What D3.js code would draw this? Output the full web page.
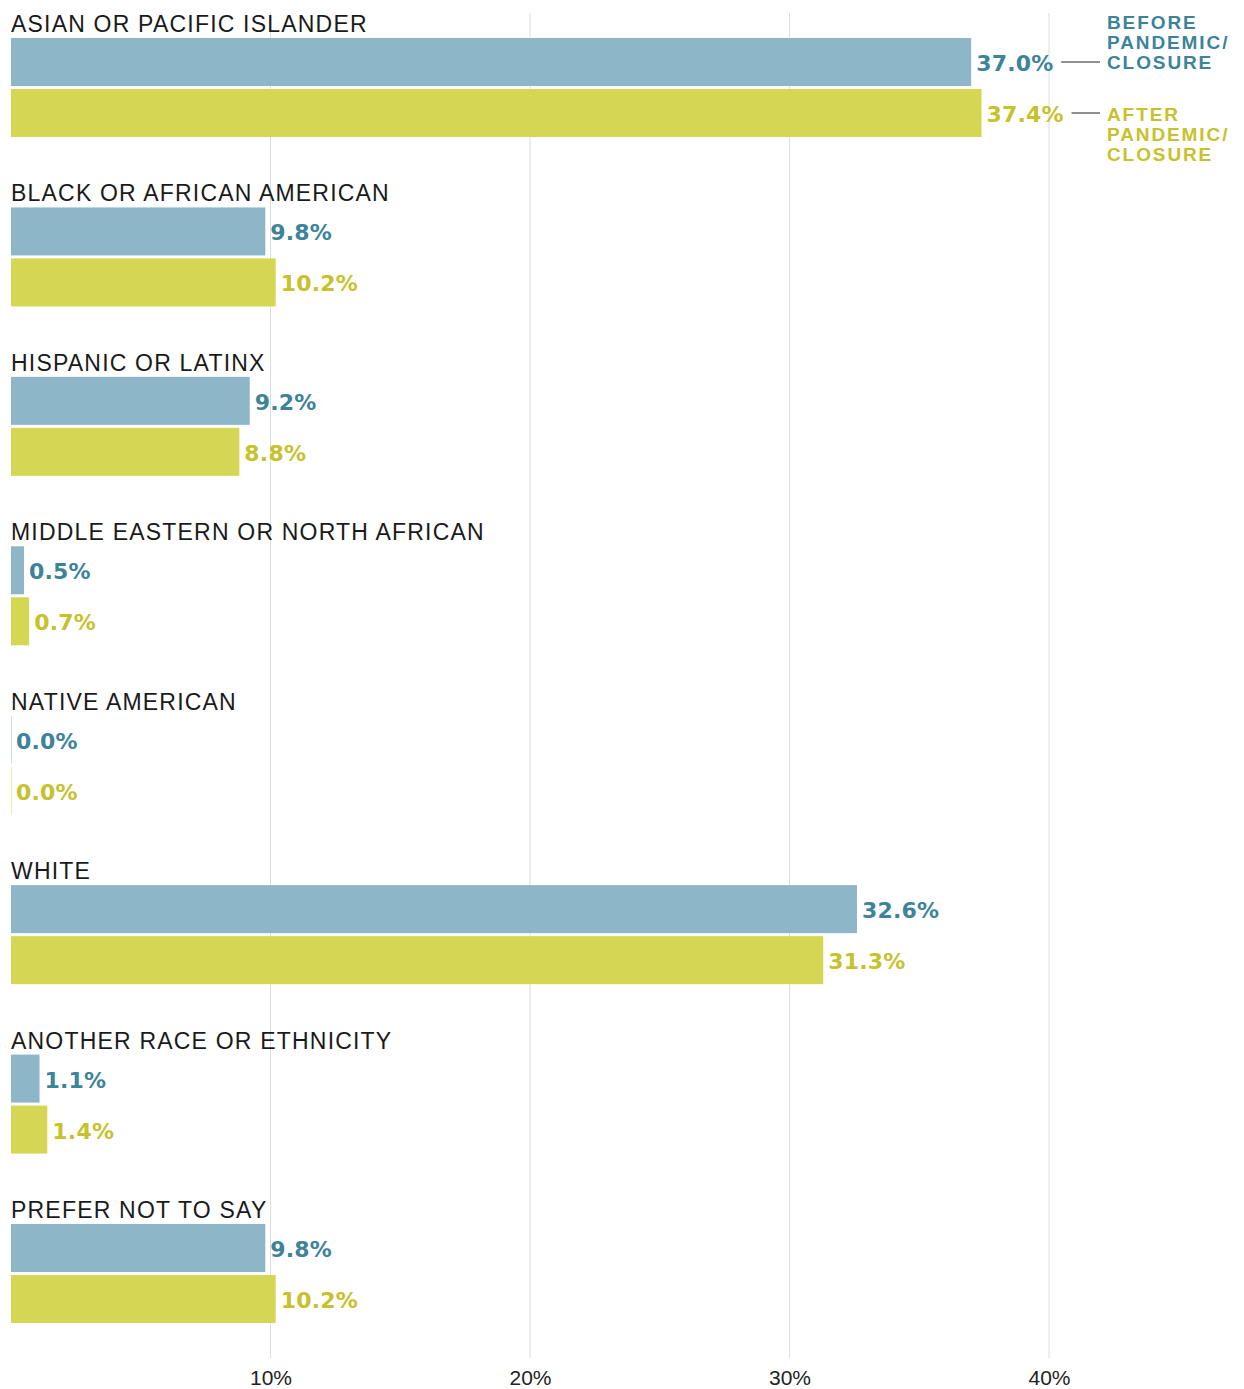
<!DOCTYPE html>
<html lang="en">
<head>
<meta charset="UTF-8">
<title>Race or ethnicity, before and after pandemic closure</title>
<script src="https://cdnjs.cloudflare.com/ajax/libs/d3/7.8.5/d3.min.js"></script>
<style>
  body { margin: 0; background: #fff; }
  .grid line { stroke: #dcdcdc; stroke-width: 1; }
  .cat { font-family: "Liberation Sans", Arial, sans-serif; font-size: 23px; letter-spacing: 1.2px; fill: #1a1a1a; }
  .val { font-family: "DejaVu Sans", sans-serif; font-weight: bold; font-size: 22px; letter-spacing: 0.2px; }
  .tick text { font-family: "Liberation Sans", Arial, sans-serif; font-size: 21px; fill: #222; }
  .legend { font-family: "Liberation Sans", Arial, sans-serif; font-weight: bold; font-size: 19px; letter-spacing: 1.9px; }
</style>
</head>
<body>
<div id="chart"></div>
<script>
// data
var categories = [
  "ASIAN OR PACIFIC ISLANDER",
  "BLACK OR AFRICAN AMERICAN",
  "HISPANIC OR LATINX",
  "MIDDLE EASTERN OR NORTH AFRICAN",
  "NATIVE AMERICAN",
  "WHITE",
  "ANOTHER RACE OR ETHNICITY",
  "PREFER NOT TO SAY"
];
var before = [37.0, 9.8, 9.2, 0.5, 0.0, 32.6, 1.1, 9.8];
var after  = [37.4, 10.2, 8.8, 0.7, 0.0, 31.3, 1.4, 10.2];
var ticks = [10, 20, 30, 40];
var seriesNames = ["BEFORE\nPANDEMIC/\nCLOSURE", "AFTER\nPANDEMIC/\nCLOSURE"];

var width = 1244, height = 1389,
    barH = 48, barGap = 3,
    barFill = ["#8db6c8", "#d4d654"],
    textFill = ["#3d8399", "#c7c12c"];

var svg = d3.select("#chart").append("svg")
    .attr("width", width)
    .attr("height", height);

var x = d3.scaleLinear().domain([0, 40]).range([11, 1049]);
var y = d3.scaleBand().domain(categories).range([38, 38 + 169.43 * categories.length]);

// gridlines
svg.append("g").attr("class", "grid")
  .selectAll("line").data(ticks).enter()
  .append("line")
    .attr("x1", d => x(d)).attr("x2", d => x(d))
    .attr("y1", 13).attr("y2", 1358);

// bottom axis labels
var axis = d3.axisBottom(x).tickValues(ticks).tickSize(0).tickPadding(0)
    .tickFormat(d => d + "%");
svg.append("g").attr("transform", "translate(0,1370)").call(axis)
  .call(g => g.select(".domain").remove());

var rows = categories.map(function (c, i) {
  return { cat: c, vals: [before[i], after[i]] };
});

var group = svg.selectAll("g.row").data(rows).enter()
  .append("g").attr("class", "row")
  .attr("transform", d => "translate(0," + y(d.cat) + ")");

group.append("text").attr("class", "cat")
  .attr("x", 11).attr("y", -6)
  .text(d => d.cat);

group.each(function (d) {
  var g = d3.select(this);
  d.vals.forEach(function (v, s) {
    var top = s * (barH + barGap);
    var w = x(v) - x(0);
    g.append("rect")
      .attr("x", x(0)).attr("y", top)
      .attr("width", Math.max(w, 1)).attr("height", barH)
      .attr("fill", barFill[s])
      .attr("opacity", w < 1 ? 0.45 : 1);
    g.append("text").attr("class", "val")
      .attr("x", x(v) + 5).attr("y", top + barH / 2 + 9)
      .attr("fill", textFill[s])
      .text(v.toFixed(1) + "%");
  });
});

// legend next to the first group
var first = rows[0], legendX = 1107;
first.vals.forEach(function (v, s) {
  var cy = y(first.cat) + s * (barH + barGap) + barH / 2;
  var labelEnd = x(v) + 5 + 80;
  svg.append("line")
    .attr("x1", labelEnd + 5).attr("x2", legendX - 7)
    .attr("y1", cy).attr("y2", cy)
    .attr("stroke", "#222").attr("stroke-width", 1);
  var t = svg.append("text").attr("class", "legend")
    .attr("fill", textFill[s]);
  seriesNames[s].split("\n").forEach(function (line, j) {
    t.append("tspan").attr("x", legendX)
      .attr("y", cy + (s === 0 ? -33 : 8) + j * 20)
      .text(line);
  });
});
</script>
</body>
</html>
